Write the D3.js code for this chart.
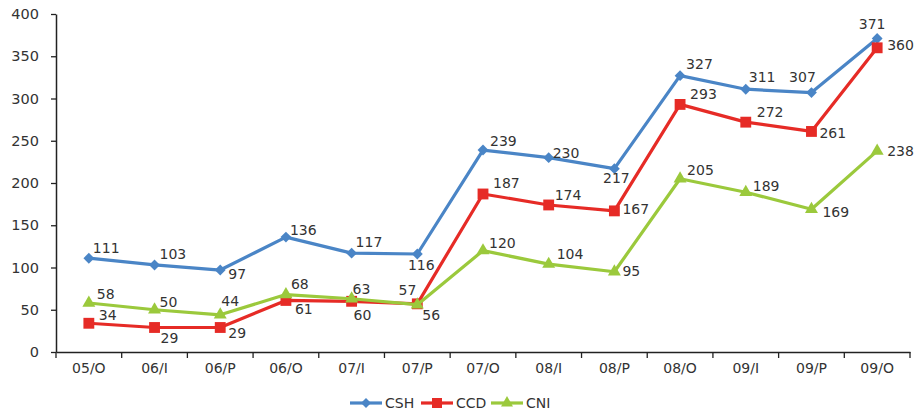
<!DOCTYPE html>
<html>
<head>
<meta charset="utf-8">
<script src="https://cdn.jsdelivr.net/npm/d3@7"></script>
<style>
  body { margin: 0; background: #fff; }
  text { font-family: "DejaVu Sans", sans-serif; fill: #333; }
</style>
</head>
<body>
<svg id="chart" width="916" height="412"></svg>
<script>
// chart data
const categories = ['05/O', '06/I', '06/P', '06/O', '07/I', '07/P', '07/O', '08/I', '08/P', '08/O', '09/I', '09/P', '09/O'];
const seriesNames = ['CSH', 'CCD', 'CNI'];
const cshValues = [111, 103, 97, 136, 117, 116, 239, 230, 217, 327, 311, 307, 371];
const ccdValues = [34, 29, 29, 61, 60, 57, 187, 174, 167, 293, 272, 261, 360];
const cniValues = [58, 50, 44, 68, 63, 56, 120, 104, 95, 205, 189, 169, 238];
const yTicks = [0, 50, 100, 150, 200, 250, 300, 350, 400];

// label placement (dx, dy, anchor) per point, hand-tuned like the original
const labelOffsets = {
  CSH: [[4,-10,'start'],[5,-11,'start'],[8,4,'start'],[4,-7,'start'],[4,-11,'start'],[4,11,'middle'],
        [7,-9,'start'],[4,-5,'start'],[2,9,'middle'],[6,-12,'start'],[3,-12,'start'],[-9,-16,'middle'],[-5,-15,'middle']],
  CCD: [[10,-8,'start'],[6,10,'start'],[8,5,'start'],[9,9,'start'],[2,14,'start'],[-1,-14,'end'],
        [10,-11,'start'],[6,-10,'start'],[8,-2,'start'],[10,-10,'start'],[11,-10,'start'],[8,2,'start'],[10,-3,'start']],
  CNI: [[8,-9,'start'],[5,-8,'start'],[1,-14,'start'],[5,-11,'start'],[1,-10,'start'],[5,10,'start'],
        [6,-8,'start'],[8,-10,'start'],[8,-1,'start'],[7,-9,'start'],[7,-6,'start'],[11,3,'start'],[10,0,'start']]
};

const colors = { CSH: '#4a85c6', CCD: '#e62b26', CNI: '#9bc93c' };
const series = [
  { name: 'CSH', values: cshValues, shape: d3.symbolDiamond2, size: 75 },
  { name: 'CCD', values: ccdValues, shape: d3.symbolSquare2, size: 150 },
  { name: 'CNI', values: cniValues, shape: d3.symbolTriangle2, size: 120 }
];

const svg = d3.select('#chart');
const margin = { top: 14, right: 5, bottom: 60, left: 56 };
const width = 916, height = 412;

const x = d3.scaleBand().domain(categories).range([margin.left, 910]);
const y = d3.scaleLinear().domain([0, 400]).range([352, 14]);

// y axis
const yAxis = svg.append('g')
  .attr('transform', `translate(${margin.left},0)`)
  .call(d3.axisLeft(y).tickValues(yTicks).tickSize(5).tickPadding(12).tickSizeOuter(0));
yAxis.selectAll('text').style('font-size', '14.5px').attr('fill', '#333');
yAxis.select('.domain').attr('stroke', '#222').attr('stroke-width', 1.5);
yAxis.selectAll('line').attr('stroke', '#222').attr('stroke-width', 1.3);

// x axis, ticks on band edges
const xAxis = svg.append('g')
  .attr('transform', `translate(0,${y(0)})`)
  .call(d3.axisBottom(x).tickSize(0).tickPadding(11));
xAxis.selectAll('text').style('font-size', '14px').attr('fill', '#333');
xAxis.select('.domain').attr('stroke', '#222').attr('stroke-width', 1.5);
xAxis.selectAll('.edge')
  .data(d3.range(categories.length + 1))
  .enter().append('line')
  .attr('x1', i => margin.left + i * x.step())
  .attr('x2', i => margin.left + i * x.step())
  .attr('y1', 0).attr('y2', 6)
  .attr('stroke', '#222').attr('stroke-width', 1.3);

const cx = c => x(c) + x.bandwidth() / 2;
const line = d3.line().x((d, i) => cx(categories[i])).y(d => y(d));

series.forEach(s => {
  const g = svg.append('g');
  g.append('path')
    .datum(s.values)
    .attr('fill', 'none')
    .attr('stroke', colors[s.name])
    .attr('stroke-width', 3.2)
    .attr('stroke-linejoin', 'round')
    .attr('d', line);

  g.selectAll('.marker')
    .data(s.values)
    .enter().append('path')
    .attr('d', d3.symbol().type(s.shape).size(s.size))
    .attr('transform', (d, i) => `translate(${cx(categories[i])},${y(d)})`)
    .attr('fill', colors[s.name]);
});

// data labels on top
series.forEach(s => {
  svg.append('g').selectAll('text')
    .data(s.values)
    .enter().append('text')
    .attr('x', (d, i) => cx(categories[i]) + labelOffsets[s.name][i][0])
    .attr('y', (d, i) => y(d) + labelOffsets[s.name][i][1])
    .attr('dy', '0.36em')
    .attr('text-anchor', (d, i) => labelOffsets[s.name][i][2])
    .style('font-size', '14px')
    .text(d => d);
});

// legend
const legendX = [350, 421, 491];
const legend = svg.append('g').attr('transform', 'translate(0,403)');
series.forEach((s, i) => {
  const lg = legend.append('g').attr('transform', `translate(${legendX[i]},0)`);
  lg.append('line').attr('x1', 0).attr('x2', 32).attr('y1', 0).attr('y2', 0)
    .attr('stroke', colors[s.name]).attr('stroke-width', 3.2);
  lg.append('path').attr('d', d3.symbol().type(s.shape).size(s.size * 0.85))
    .attr('transform', 'translate(16,0)').attr('fill', colors[s.name]);
  lg.append('text').attr('x', 35).attr('dy', '0.36em')
    .style('font-size', '14px').text(s.name);
});
</script>
</body>
</html>
